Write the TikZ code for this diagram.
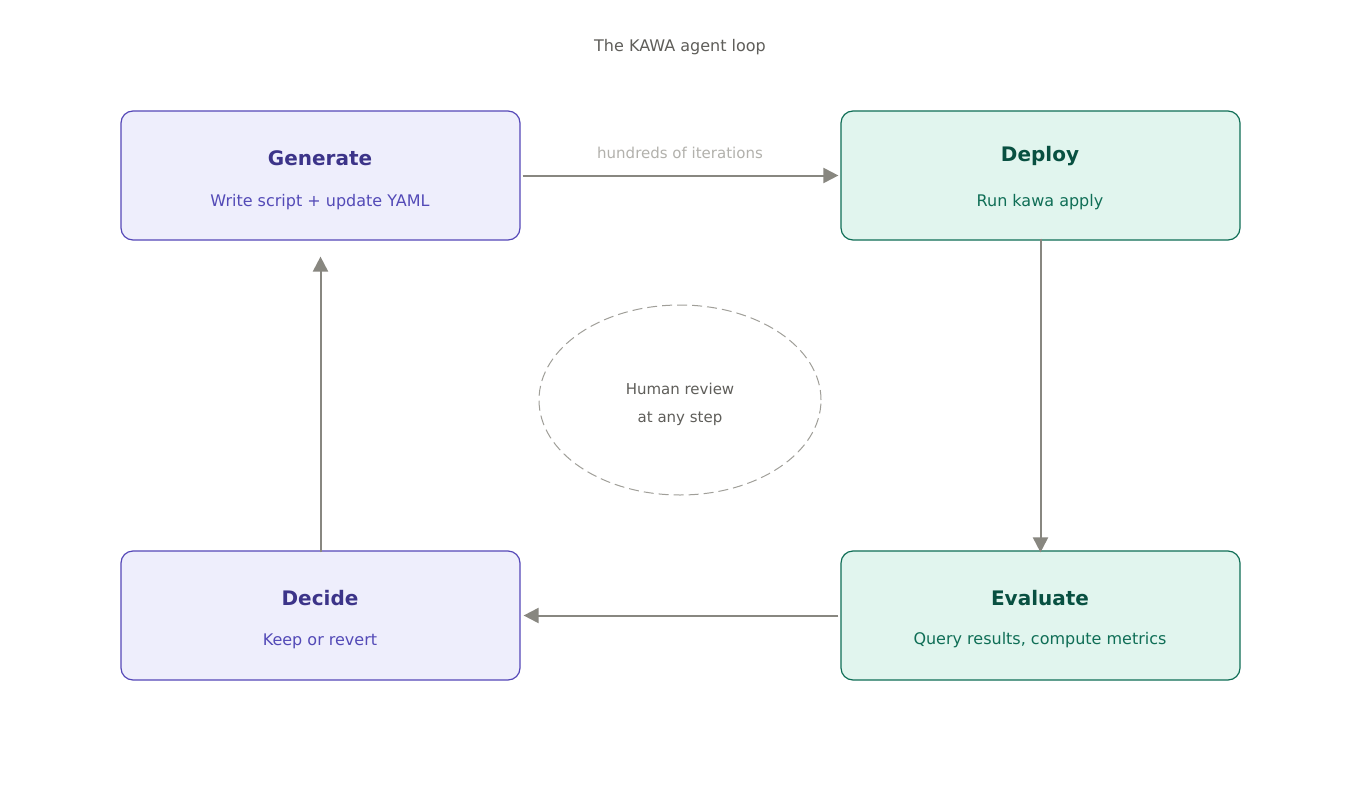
\documentclass[tikz,border=0pt]{standalone}
\usepackage{fontspec}
\setmainfont{DejaVu Sans}
\usetikzlibrary{arrows.meta,shapes.geometric}
\definecolor{pfill}{HTML}{EEEEFC}
\definecolor{pdraw}{HTML}{5548B8}
\definecolor{ptitle}{HTML}{3C3489}
\definecolor{psub}{HTML}{534AB7}
\definecolor{gfill}{HTML}{E1F5EE}
\definecolor{gdraw}{HTML}{0F6E56}
\definecolor{gtitle}{HTML}{085041}
\definecolor{gsub}{HTML}{0F6E56}
\definecolor{arr}{HTML}{888780}
\definecolor{txt}{HTML}{5F5E5A}
\tikzset{
 box/.style={rounded corners=12pt,minimum width=399pt,minimum height=129pt,line width=1.2pt},
 pbox/.style={box,fill=pfill,draw=pdraw},
 gbox/.style={box,fill=gfill,draw=gdraw},
 ttl/.style={font=\fontsize{20}{24}\selectfont\bfseries},
 sub/.style={font=\fontsize{16}{19}\selectfont},
 conn/.style={draw=arr,line width=2pt,-{Triangle[length=15pt,width=15pt]}}
}
\begin{document}
\begin{tikzpicture}[x=1pt,y=-1pt]
\useasboundingbox (0,0) rectangle (1360,800);
\fill[white] (0,0) rectangle (1360,800);
\node[font=\fontsize{16}{19}\selectfont,text=txt] (title) at (680,47) {The KAWA agent loop};
\node[pbox] (gen) at (320.5,175.5) {};
\node[ttl,text=ptitle] (genT) at (320,158) {Generate};
\node[sub,text=psub] (genS) at (320,202) {Write script + update YAML};
\node[gbox] (dep) at (1040.5,175.5) {};
\node[ttl,text=gtitle] (depT) at (1040,156) {Deploy};
\node[sub,text=gsub] (depS) at (1040,202) {Run kawa apply};
\node[pbox] (dec) at (320.5,615.5) {};
\node[ttl,text=ptitle] (decT) at (320,598) {Decide};
\node[sub,text=psub] (decS) at (320,641) {Keep or revert};
\node[gbox] (eva) at (1040.5,615.5) {};
\node[ttl,text=gtitle] (evaT) at (1040,598) {Evaluate};
\node[sub,text=gsub] (evaS) at (1040,640) {Query results, compute metrics};
\node[ellipse,draw=arr!80,dash pattern=on 10pt off 5pt,line width=1pt,minimum width=282pt,minimum height=190pt] (hum) at (680,400) {};
\node[font=\fontsize{15}{18}\selectfont,text=txt,align=center] (humT) at (680,404) {Human review\\[10pt]at any step};
\node[font=\fontsize{15}{18}\selectfont,text=arr!65] (lbl) at (680,153) {hundreds of iterations};
\draw[conn] ([xshift=2pt]gen.east) -- ([xshift=-2pt]dep.west);
\draw[conn] ([yshift=2pt]dep.south) -- ([yshift=-2pt]eva.north);
\draw[conn] ([xshift=-2pt]eva.west) -- ([xshift=3pt]dec.east);
\draw[conn] ([yshift=-2pt]dec.north) -- ([yshift=-16pt]gen.south);
\end{tikzpicture}
\end{document}
